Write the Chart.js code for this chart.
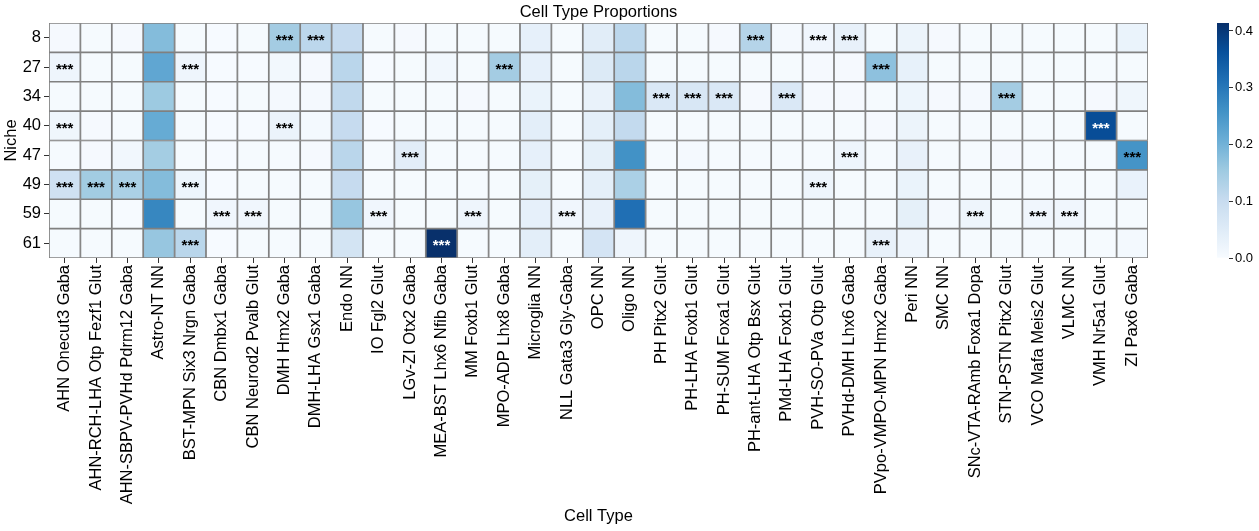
<!DOCTYPE html>
<html lang="en">
<head>
    <meta charset="UTF-8">
    <title>Cell Type Proportions</title>
    <style>
        body { margin: 0; background: #fff; }
        #wrap { position: relative; width: 1259px; height: 531px; }
        #heat { position: absolute; left: 0; top: 0; }
        #cbar { position: absolute; left: 1190px; top: 0; }
    </style>
</head>
<body>

<div id="wrap">
    <canvas id="heat" width="1259" height="531"></canvas>
    <canvas id="cbar" width="69" height="531"></canvas>
</div>

<script src="https://cdn.jsdelivr.net/npm/chart.js"></script>
<script>
    var niches = ['8', '27', '34', '40', '47', '49', '59', '61'];

    var cellTypes = [
        'AHN Onecut3 Gaba', 'AHN-RCH-LHA Otp Fezf1 Glut', 'AHN-SBPV-PVHd Pdrm12 Gaba', 'Astro-NT NN',
        'BST-MPN Six3 Nrgn Gaba', 'CBN Dmbx1 Gaba', 'CBN Neurod2 Pvalb Glut', 'DMH Hmx2 Gaba',
        'DMH-LHA Gsx1 Gaba', 'Endo NN', 'IO Fgl2 Glut', 'LGv-ZI Otx2 Gaba', 'MEA-BST Lhx6 Nfib Gaba',
        'MM Foxb1 Glut', 'MPO-ADP Lhx8 Gaba', 'Microglia NN', 'NLL Gata3 Gly-Gaba', 'OPC NN', 'Oligo NN',
        'PH Pitx2 Glut', 'PH-LHA Foxb1 Glut', 'PH-SUM Foxa1 Glut', 'PH-ant-LHA Otp Bsx Glut',
        'PMd-LHA Foxb1 Glut', 'PVH-SO-PVa Otp Glut', 'PVHd-DMH Lhx6 Gaba', 'PVpo-VMPO-MPN Hmx2 Gaba',
        'Peri NN', 'SMC NN', 'SNc-VTA-RAmb Foxa1 Dopa', 'STN-PSTN Pitx2 Glut', 'VCO Mafa Meis2 Glut',
        'VLMC NN', 'VMH Nr5a1 Glut', 'ZI Pax6 Gaba'
    ];

    // proportion of each cell type per niche (same order as cellTypes)
    var niche8  = [0.005, 0.004, 0.005, 0.182, 0.004, 0.003, 0.004, 0.148, 0.116, 0.103, 0.004, 0.005, 0.004, 0.004, 0.004, 0.035, 0.004, 0.046, 0.116, 0.004, 0.004, 0.005, 0.125, 0.006, 0.015, 0.031, 0.004, 0.023, 0.005, 0.004, 0.004, 0.004, 0.004, 0.004, 0.027];
    var niche27 = [0.019, 0.004, 0.004, 0.221, 0.019, 0.003, 0.003, 0.010, 0.005, 0.119, 0.003, 0.004, 0.012, 0.004, 0.148, 0.035, 0.004, 0.056, 0.119, 0.004, 0.004, 0.004, 0.004, 0.004, 0.005, 0.005, 0.171, 0.033, 0.004, 0.004, 0.004, 0.004, 0.004, 0.004, 0.004];
    var niche34 = [0.004, 0.004, 0.004, 0.156, 0.004, 0.003, 0.004, 0.006, 0.006, 0.110, 0.004, 0.004, 0.004, 0.005, 0.004, 0.027, 0.004, 0.030, 0.182, 0.060, 0.065, 0.060, 0.005, 0.060, 0.005, 0.005, 0.004, 0.021, 0.005, 0.006, 0.148, 0.004, 0.004, 0.005, 0.017];
    var niche40 = [0.017, 0.005, 0.004, 0.213, 0.004, 0.003, 0.003, 0.025, 0.008, 0.103, 0.003, 0.004, 0.004, 0.004, 0.004, 0.041, 0.004, 0.039, 0.108, 0.004, 0.004, 0.004, 0.004, 0.004, 0.004, 0.004, 0.005, 0.023, 0.004, 0.004, 0.004, 0.004, 0.004, 0.368, 0.004];
    var niche47 = [0.004, 0.005, 0.012, 0.147, 0.004, 0.003, 0.004, 0.004, 0.005, 0.119, 0.004, 0.044, 0.004, 0.004, 0.004, 0.035, 0.004, 0.037, 0.259, 0.004, 0.006, 0.004, 0.004, 0.004, 0.004, 0.019, 0.004, 0.031, 0.004, 0.004, 0.005, 0.004, 0.004, 0.004, 0.255];
    var niche49 = [0.084, 0.150, 0.138, 0.182, 0.021, 0.003, 0.004, 0.004, 0.004, 0.103, 0.004, 0.004, 0.004, 0.004, 0.004, 0.037, 0.004, 0.039, 0.138, 0.004, 0.004, 0.004, 0.004, 0.004, 0.019, 0.004, 0.004, 0.027, 0.004, 0.004, 0.004, 0.004, 0.004, 0.004, 0.029];
    var niche59 = [0.004, 0.004, 0.003, 0.276, 0.004, 0.015, 0.015, 0.004, 0.004, 0.162, 0.015, 0.004, 0.004, 0.019, 0.004, 0.035, 0.015, 0.031, 0.313, 0.004, 0.004, 0.004, 0.004, 0.004, 0.004, 0.004, 0.004, 0.037, 0.006, 0.019, 0.004, 0.015, 0.015, 0.004, 0.004];
    var niche61 = [0.004, 0.004, 0.004, 0.162, 0.120, 0.003, 0.004, 0.004, 0.004, 0.075, 0.004, 0.004, 0.414, 0.004, 0.004, 0.041, 0.004, 0.073, 0.019, 0.004, 0.004, 0.004, 0.004, 0.004, 0.004, 0.004, 0.031, 0.019, 0.004, 0.004, 0.004, 0.004, 0.004, 0.004, 0.008];

    // cell types marked *** in each niche
    var sig8  = ['DMH Hmx2 Gaba', 'DMH-LHA Gsx1 Gaba', 'PH-ant-LHA Otp Bsx Glut', 'PVH-SO-PVa Otp Glut', 'PVHd-DMH Lhx6 Gaba'];
    var sig27 = ['AHN Onecut3 Gaba', 'BST-MPN Six3 Nrgn Gaba', 'MPO-ADP Lhx8 Gaba', 'PVpo-VMPO-MPN Hmx2 Gaba'];
    var sig34 = ['PH Pitx2 Glut', 'PH-LHA Foxb1 Glut', 'PH-SUM Foxa1 Glut', 'PMd-LHA Foxb1 Glut', 'STN-PSTN Pitx2 Glut'];
    var sig40 = ['AHN Onecut3 Gaba', 'DMH Hmx2 Gaba', 'VMH Nr5a1 Glut'];
    var sig47 = ['LGv-ZI Otx2 Gaba', 'PVHd-DMH Lhx6 Gaba', 'ZI Pax6 Gaba'];
    var sig49 = ['AHN Onecut3 Gaba', 'AHN-RCH-LHA Otp Fezf1 Glut', 'AHN-SBPV-PVHd Pdrm12 Gaba', 'BST-MPN Six3 Nrgn Gaba', 'PVH-SO-PVa Otp Glut'];
    var sig59 = ['CBN Dmbx1 Gaba', 'CBN Neurod2 Pvalb Glut', 'IO Fgl2 Glut', 'MM Foxb1 Glut', 'NLL Gata3 Gly-Gaba', 'SNc-VTA-RAmb Foxa1 Dopa', 'VCO Mafa Meis2 Glut', 'VLMC NN'];
    var sig61 = ['BST-MPN Six3 Nrgn Gaba', 'MEA-BST Lhx6 Nfib Gaba', 'PVpo-VMPO-MPN Hmx2 Gaba'];

    var colorbarTicks = [0.0, 0.1, 0.2, 0.3, 0.4];
    var vmax = 0.414;

    var rows = [niche8, niche27, niche34, niche40, niche47, niche49, niche59, niche61];
    var sigs = [sig8, sig27, sig34, sig40, sig47, sig49, sig59, sig61];

    // matplotlib "Blues"
    var blues = [
        [247, 251, 255], [222, 235, 247], [198, 219, 239], [158, 202, 225], [107, 174, 214],
        [66, 146, 198], [33, 113, 181], [8, 81, 156], [8, 48, 107]
    ];

    function bluesColor(v) {
        var t = Math.max(0, Math.min(1, v / vmax)) * (blues.length - 1);
        var i = Math.min(Math.floor(t), blues.length - 2);
        var f = t - i;
        var c = blues[i].map(function (a, k) { return Math.round(a + (blues[i + 1][k] - a) * f); });
        return 'rgb(' + c.join(',') + ')';
    }

    var fontFamily = '"Liberation Sans", Arial, Helvetica, sans-serif';
    Chart.defaults.font.family = fontFamily;
    Chart.defaults.color = '#000';

    var datasets = rows.map(function (vals, r) {
        return {
            label: niches[r],
            data: cellTypes.map(function () { return [r, r + 1]; }),
            backgroundColor: vals.map(bluesColor),
            borderColor: '#808080',
            borderWidth: 1.2,
            borderSkipped: false,
            barPercentage: 1,
            categoryPercentage: 1,
            grouped: false
        };
    });

    // *** annotations and the title centred over the heatmap
    var annotatePlugin = {
        id: 'annotate',
        afterDatasetsDraw: function (chart) {
            var ctx = chart.ctx;
            ctx.save();
            ctx.font = 'bold 15px ' + fontFamily;
            ctx.textAlign = 'center';
            ctx.textBaseline = 'alphabetic';
            sigs.forEach(function (list, r) {
                var meta = chart.getDatasetMeta(r);
                list.forEach(function (name) {
                    var i = cellTypes.indexOf(name);
                    var p = meta.data[i].getCenterPoint();
                    ctx.fillStyle = rows[r][i] > 0.33 ? '#fff' : '#000';
                    ctx.fillText('***', p.x, p.y + 7);
                });
            });
            var area = chart.chartArea;
            ctx.fillStyle = '#000';
            ctx.font = '16.5px ' + fontFamily;
            ctx.textBaseline = 'middle';
            ctx.fillText('Cell Type Proportions', (area.left + area.right) / 2, 12);
            ctx.restore();
        }
    };

    new Chart(document.getElementById('heat'), {
        type: 'bar',
        data: { labels: cellTypes, datasets: datasets },
        options: {
            responsive: false,
            animation: false,
            devicePixelRatio: 1,
            layout: { padding: { left: 0, right: 111, top: 23, bottom: 0 } },
            plugins: {
                legend: { display: false },
                tooltip: { enabled: false },
                title: { display: false }
            },
            scales: {
                x: {
                    type: 'category',
                    offset: true,
                    grid: { offset: false, drawOnChartArea: false, drawTicks: true, tickLength: 5, color: '#333' },
                    border: { display: false },
                    ticks: { autoSkip: false, minRotation: 90, maxRotation: 90, padding: 2, font: { size: 16.5 }, color: '#000' },
                    title: { display: true, text: 'Cell Type', font: { size: 16.5 }, color: '#000', padding: { top: 0, bottom: 5 } },
                    afterFit: function (scale) { scale.height = 273; }
                },
                y: {
                    type: 'linear',
                    min: 0,
                    max: niches.length,
                    reverse: true,
                    afterBuildTicks: function (scale) {
                        scale.ticks = niches.map(function (n, i) { return { value: i + 0.5 }; });
                    },
                    grid: { drawOnChartArea: false, drawTicks: true, tickLength: 5, color: '#333' },
                    border: { display: false },
                    ticks: {
                        padding: 3,
                        font: { size: 16.5 },
                        color: '#000',
                        callback: function (v, idx) { return niches[idx]; }
                    },
                    title: { display: true, text: 'Niche', font: { size: 16.5 }, color: '#000', padding: { top: 2, bottom: 0 } },
                    afterFit: function (scale) { scale.width = 49; }
                }
            }
        },
        plugins: [annotatePlugin]
    });

    // colour bar
    new Chart(document.getElementById('cbar'), {
        type: 'bar',
        data: {
            labels: [''],
            datasets: [{
                data: [[0, vmax]],
                backgroundColor: function (context) {
                    var area = context.chart.chartArea;
                    if (!area) return bluesColor(0);
                    var g = context.chart.ctx.createLinearGradient(0, area.bottom, 0, area.top);
                    blues.forEach(function (c, i) {
                        g.addColorStop(i / (blues.length - 1), 'rgb(' + c.join(',') + ')');
                    });
                    return g;
                },
                borderWidth: 0,
                barPercentage: 1,
                categoryPercentage: 1
            }]
        },
        options: {
            responsive: false,
            animation: false,
            devicePixelRatio: 1,
            layout: { padding: { left: 27, right: 0, top: 23, bottom: 273 } },
            plugins: { legend: { display: false }, tooltip: { enabled: false } },
            scales: {
                x: { display: false },
                y: {
                    position: 'right',
                    min: 0,
                    max: vmax,
                    afterBuildTicks: function (scale) {
                        scale.ticks = colorbarTicks.map(function (v) { return { value: v }; });
                    },
                    grid: { drawOnChartArea: false, drawTicks: true, tickLength: 4, color: '#333' },
                    border: { display: false },
                    ticks: {
                        padding: 2,
                        font: { size: 13 },
                        color: '#000',
                        callback: function (v) { return v.toFixed(1); }
                    },
                    afterFit: function (scale) { scale.width = 30; }
                }
            }
        }
    });
</script>

</body>
</html>
